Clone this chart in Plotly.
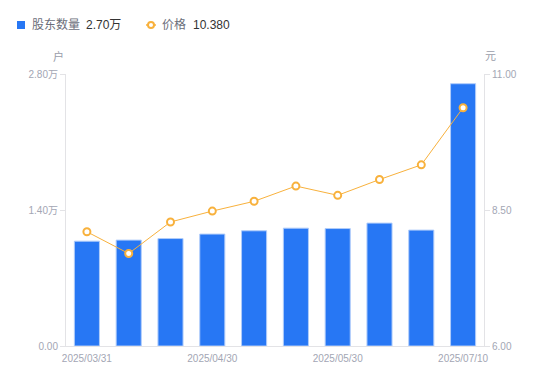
import plotly.graph_objects as go

dates = ["2025/03/31", "2025/04/10", "2025/04/18", "2025/04/30", "2025/05/09",
         "2025/05/20", "2025/05/30", "2025/06/10", "2025/06/20", "2025/07/10"]
holders_wan = [1.079, 1.090, 1.106, 1.152, 1.186, 1.213, 1.209, 1.265, 1.193, 2.70]
price = [8.10, 7.70, 8.28, 8.48, 8.66, 8.94, 8.77, 9.06, 9.33, 10.38]

left_ticks = [0, 1.4, 2.8]
left_ticktext = ["0.00", "1.40万", "2.80万"]
right_ticks = [6, 8.5, 11]
right_ticktext = ["6.00", "8.50", "11.00"]
x_tickvals = ["2025/03/31", "2025/04/30", "2025/05/30", "2025/07/10"]

FONT = "Liberation Sans, Arial, Noto Sans CJK SC, sans-serif"
BLUE = "#2777F4"
ORANGE = "#F8B13C"
AXIS = "#E3E3E6"
TICKTXT = "#A3A6B4"

PL, PR, PT, PB = 66, 484, 74, 346  # plot area in page pixels
OFF = 8
W, H = 550, 381

fig = go.Figure()
fig.add_trace(go.Bar(
    x=dates, y=holders_wan, name="股东数量",
    marker=dict(color=BLUE, line=dict(color="#B0CCFA", width=1)),
    width=0.6, yaxis="y", showlegend=False,
))
fig.add_trace(go.Scatter(
    x=dates, y=price, name="价格", mode="lines+markers",
    line=dict(color=ORANGE, width=1),
    marker=dict(symbol="circle", size=7, color="white", line=dict(color=ORANGE, width=2)),
    yaxis="y2", showlegend=False,
))

fig.update_layout(
    width=W, height=H, autosize=False,
    margin=dict(l=PL - OFF, r=W - (PR - OFF), t=PT - OFF, b=H - (PB - OFF)),
    paper_bgcolor="white", plot_bgcolor="white",
    font=dict(family=FONT, size=10, color=TICKTXT),
    xaxis=dict(
        type="category", range=[-0.5, len(dates) - 0.5],
        tickmode="array", tickvals=x_tickvals, ticktext=x_tickvals,
        showgrid=False, showline=True, linecolor=AXIS, linewidth=1,
        ticks="outside", ticklen=3, tickcolor="rgba(0,0,0,0)",
        tickfont=dict(size=10, color=TICKTXT), zeroline=False,
    ),
    yaxis=dict(
        range=[0, 2.8], tickmode="array", tickvals=left_ticks, ticktext=left_ticktext,
        showgrid=False, showline=True, linecolor=AXIS, linewidth=1, zeroline=False,
        ticks="outside", ticklen=5, tickcolor=AXIS, tickfont=dict(size=10, color=TICKTXT),
    ),
    yaxis2=dict(
        range=[6, 11], overlaying="y", side="right", tickmode="array",
        tickvals=right_ticks, ticktext=right_ticktext,
        showgrid=False, showline=True, linecolor=AXIS, linewidth=1, zeroline=False,
        ticks="outside", ticklen=5, tickcolor=AXIS, tickfont=dict(size=10, color=TICKTXT),
    ),
    bargap=0.4,
)

def px_x(p):
    return (p - PL) / (PR - PL)
def px_y(p):
    return (PB - p) / (PB - PT)

fig.add_annotation(text="户", xref="paper", yref="paper", x=px_x(58), y=px_y(56),
                   showarrow=False, font=dict(size=11, color="#9A9DAA"), xanchor="center", yanchor="middle")
fig.add_annotation(text="元", xref="paper", yref="paper", x=px_x(490), y=px_y(56),
                   showarrow=False, font=dict(size=11, color="#9A9DAA"), xanchor="center", yanchor="middle")

fig.add_shape(type="rect", xref="paper", yref="paper",
              x0=px_x(17), x1=px_x(25), y0=px_y(29), y1=px_y(21),
              fillcolor=BLUE, line=dict(width=0))
fig.add_annotation(text="股东数量", xref="paper", yref="paper", x=px_x(30), y=px_y(25),
                   xanchor="left", yanchor="middle", showarrow=False,
                   font=dict(size=12, color="#6B6E7A"))
fig.add_annotation(text=f"{holders_wan[-1]:.2f}万", xref="paper", yref="paper", x=px_x(84), y=px_y(25),
                   xanchor="left", yanchor="middle", showarrow=False,
                   font=dict(size=12, color="#333333"))
fig.add_shape(type="line", xref="paper", yref="paper",
              x0=px_x(146), x1=px_x(156), y0=px_y(25), y1=px_y(25),
              line=dict(color=ORANGE, width=1.5))
fig.add_shape(type="circle", xref="paper", yref="paper",
              x0=px_x(148), x1=px_x(154), y0=px_y(28), y1=px_y(22),
              fillcolor="white", line=dict(color=ORANGE, width=2))
fig.add_annotation(text="价格", xref="paper", yref="paper", x=px_x(160), y=px_y(25),
                   xanchor="left", yanchor="middle", showarrow=False,
                   font=dict(size=12, color="#6B6E7A"))
fig.add_annotation(text=f"{price[-1]:.3f}", xref="paper", yref="paper", x=px_x(191), y=px_y(25),
                   xanchor="left", yanchor="middle", showarrow=False,
                   font=dict(size=12, color="#333333"))

fig.write_html("out.html")
